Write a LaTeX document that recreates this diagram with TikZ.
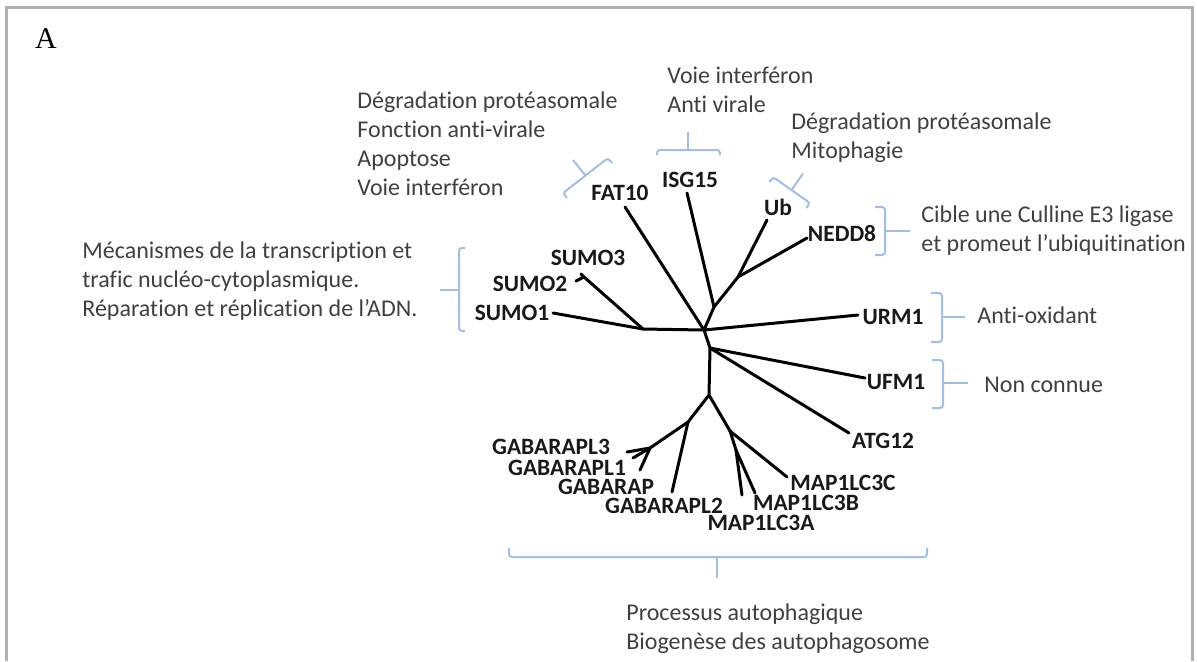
\documentclass[tikz,border=0pt]{standalone}
\usepackage{fontspec}
\setmainfont{Carlito}[Ligatures=NoCommon]
\newfontfamily\panelfont{Liberation Serif}
\usepackage{tikz}

\definecolor{framegray}{RGB}{176,176,176}
\definecolor{bracketblue}{RGB}{163,190,226}
\definecolor{roletext}{RGB}{64,64,64}
\definecolor{genetext}{RGB}{25,25,25}

\tikzset{
  branch/.style={line width=1.5pt, line cap=round, line join=round},
  gene/.style={font=\bfseries\fontsize{11.7}{14}\selectfont, inner sep=0pt, text=genetext},
  role/.style={font=\fontsize{12}{14.5}\selectfont, align=left, anchor=base west, inner sep=0pt, text=roletext},
  brace/.style={draw=bracketblue, line width=1pt, rounded corners=1.5pt},
}

\begin{document}
\begin{tikzpicture}[x=0.5pt, y=-0.5pt]
    \useasboundingbox (0,0) rectangle (1197,661);
    \draw[framegray, line width=1.5pt] (6,661) -- (6,7) -- (1192,7) -- (1192,661);
    \node[font=\panelfont\fontsize{15}{18}\selectfont, inner sep=0pt] (panel) at (46,39) {A};

    \coordinate (root) at (704,330);
    \coordinate (sumo) at (643,329);
    \coordinate (sumo23) at (584,277);
    \coordinate (isg) at (714,307);
    \coordinate (ubn) at (738,277);
    \coordinate (low) at (710,348);
    \coordinate (atg8) at (709,395);
    \coordinate (gab) at (688,422);
    \coordinate (gabl) at (650,448);
    \coordinate (lc3) at (730,431);
    \coordinate (lc3ab) at (736,450);

    \coordinate (tSUMO1) at (553,313);
    \coordinate (tSUMO2) at (576,281);
    \coordinate (tSUMO3) at (581,274);
    \coordinate (tFAT10) at (625,207);
    \coordinate (tISG15) at (687,193);
    \coordinate (tUb) at (767,220);
    \coordinate (tNEDD8) at (807,238);
    \coordinate (tURM1) at (858,315);
    \coordinate (tUFM1) at (865,378);
    \coordinate (tATG12) at (849,433);
    \coordinate (tGABARAPL3) at (627,452);
    \coordinate (tGABARAP) at (633,458);
    \coordinate (tGABARAPL1) at (640,470);
    \coordinate (tGABARAPL2) at (672,492);
    \coordinate (tMAP1LC3A) at (742,495);
    \coordinate (tMAP1LC3B) at (755,493);
    \coordinate (tMAP1LC3C) at (787,477);

    \draw[branch] (tSUMO1) -- (sumo) -- (root) -- (tURM1);
    \draw[branch] (sumo) -- (sumo23) -- (tSUMO2);
    \draw[branch] (sumo23) -- (tSUMO3);
    \draw[branch] (root) -- (tFAT10);
    \draw[branch] (root) -- (isg) -- (tISG15);
    \draw[branch] (isg) -- (ubn) -- (tUb);
    \draw[branch] (ubn) -- (tNEDD8);
    \draw[branch] (root) -- (low) -- (tUFM1);
    \draw[branch] (low) -- (tATG12);
    \draw[branch] (low) -- (atg8) -- (gab) -- (gabl) -- (tGABARAPL3);
    \draw[branch] (gabl) -- (tGABARAP);
    \draw[branch] (gabl) -- (tGABARAPL1);
    \draw[branch] (gab) -- (tGABARAPL2);
    \draw[branch] (atg8) -- (lc3) -- (tMAP1LC3C);
    \draw[branch] (lc3) -- (lc3ab) -- (tMAP1LC3A);
    \draw[branch] (lc3ab) -- (tMAP1LC3B);

    \node[gene] (SUMO1) at (512,313) {SUMO1};
    \node[gene] (SUMO2) at (530,284) {SUMO2};
    \node[gene] (SUMO3) at (588,258) {SUMO3};
    \node[gene] (FAT10) at (620,193) {FAT10};
    \node[gene] (ISG15) at (690,180) {ISG15};
    \node[gene] (Ub) at (778,207) {Ub};
    \node[gene] (NEDD8) at (842,233) {NEDD8};
    \node[gene] (URM1) at (893,317) {URM1};
    \node[gene] (UFM1) at (896,382) {UFM1};
    \node[gene] (ATG12) at (883,441) {ATG12};
    \node[gene] (GABARAPL3) at (551,447) {GABARAPL3};
    \node[gene] (GABARAPL1) at (567,468) {GABARAPL1};
    \node[gene] (GABARAP) at (606,487) {GABARAP};
    \node[gene] (GABARAPL2) at (664,506) {GABARAPL2};
    \node[gene] (MAP1LC3A) at (761,523) {MAP1LC3A};
    \node[gene] (MAP1LC3B) at (806,503) {MAP1LC3B};
    \node[gene] (MAP1LC3C) at (843,483) {MAP1LC3C};

    \draw[brace] (465,248) -- (459,248) -- (459,331) -- (465,331);
    \draw[brace] (459,290) -- (440,290);
    \draw[brace] (567,198) -- (563,193) -- (608,158) -- (612,163);
    \draw[brace] (585.5,175.5) -- (573,160);
    \draw[brace] (657,155) -- (657,150) -- (720,150) -- (720,155);
    \draw[brace] (688,150) -- (688,132);
    \draw[brace] (769.5,182) -- (773,177) -- (810,203) -- (806.5,208);
    \draw[brace] (791.5,190) -- (803,173.5);
    \draw[brace] (875,207) -- (885,207) -- (885,255) -- (875,255);
    \draw[brace] (885,231) -- (910,231);
    \draw[brace] (931,293) -- (942,293) -- (942,342) -- (931,342);
    \draw[brace] (942,317) -- (965,317);
    \draw[brace] (932,360) -- (943,360) -- (943,408) -- (932,408);
    \draw[brace] (943,383) -- (968,383);
    \draw[brace] (509,548) -- (509,557) -- (927,557) -- (927,548);
    \draw[brace] (717,557) -- (717,578);

    \node[role] (fatrole) at (357,195) {Dégradation protéasomale\\Fonction anti-virale\\Apoptose\\Voie interféron};
    \node[role] (isgrole) at (667,112) {Voie interféron\\Anti virale};
    \node[role] (ubrole) at (791,158) {Dégradation protéasomale\\Mitophagie};
    \node[role] (neddrole) at (921,251) {Cible une Culline E3 ligase\\et promeut l’ubiquitination};
    \node[role] (sumorole) at (82,316) {Mécanismes de la transcription et\\trafic nucléo-cytoplasmique.\\Réparation et réplication de l’ADN.};
    \node[role] (urmrole) at (977,323) {Anti-oxidant};
    \node[role] (ufmrole) at (984,392) {Non connue};
    \node[role] (atgrole) at (626,649) {Processus autophagique\\Biogenèse des autophagosome};
\end{tikzpicture}
\end{document}
